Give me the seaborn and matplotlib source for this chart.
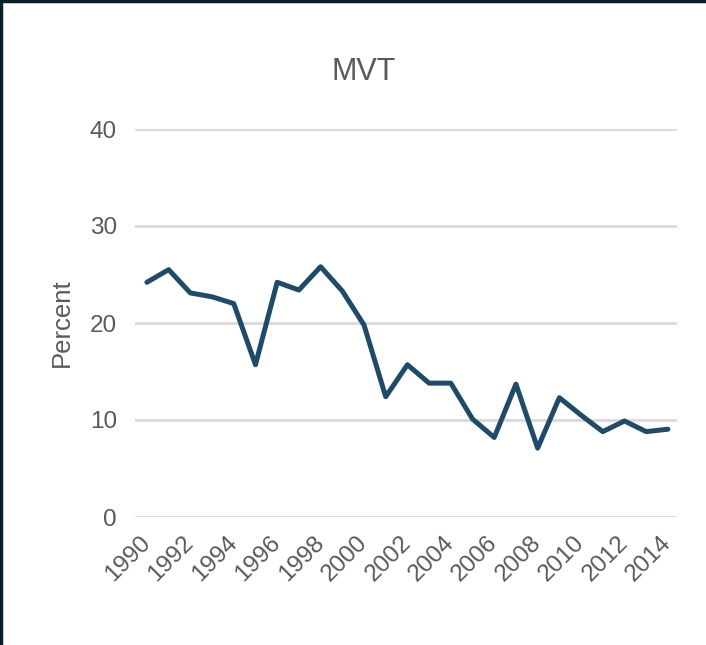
import pandas as pd
import seaborn as sns
from matplotlib import pyplot as plt
from matplotlib.lines import Line2D

years = list(range(1990, 2015))
percent = [24.2, 25.5, 23.1, 22.7, 22.0, 15.7, 24.2, 23.4, 25.8, 23.3,
           19.8, 12.4, 15.7, 13.8, 13.8, 10.1, 8.2, 13.7, 7.1, 12.3,
           10.5, 8.8, 9.9, 8.8, 9.05]
yticks = [0, 10, 20, 30, 40]

df = pd.DataFrame({"year": years, "percent": percent})

sns.set_theme(style="white")
plt.rcParams["font.family"] = ["Liberation Sans", "DejaVu Sans"]

fig = plt.figure(figsize=(7.06, 6.45), dpi=100)
ax = fig.add_axes([135 / 706, 1 - 517 / 645, 542 / 706, 388 / 645])

sns.lineplot(data=df, x="year", y="percent", color="#1f4b68", linewidth=3.6,
             ax=ax, zorder=3)

ax.set_ylim(0, 40)
ax.set_xlim(1989.45, 2014.42)
ax.set_yticks(yticks)
ax.set_xticks(years[::2])
ax.set_xticklabels([str(y) for y in years[::2]], rotation=45, ha="right",
                   va="center", rotation_mode="anchor")
for y in yticks:
    ax.axhline(y, color="#d9d9d9", linewidth=2, zorder=1)
ax.tick_params(axis="both", colors="#595959", labelsize=17.5, length=0)
ax.tick_params(axis="y", pad=13)
ax.tick_params(axis="x", pad=16)
for s in ax.spines.values():
    s.set_visible(False)

ax.set_xlabel("")
ax.set_ylabel("Percent", color="#595959", fontsize=18.5)
ax.yaxis.set_label_coords((74 - 135) / 542, 0.5)
fig.text(364 / 706, 1 - 72 / 645, "MVT", color="#595959", fontsize=22,
         ha="center", va="center")

# dark screenshot edge on top and left
fig.add_artist(Line2D([0, 1], [0.998, 0.998], transform=fig.transFigure,
                      color="#0d1f2a", linewidth=2.5))
fig.add_artist(Line2D([0.002, 0.002], [0, 1], transform=fig.transFigure,
                      color="#0d1f2a", linewidth=2.5))

fig.savefig("out.png", dpi=100)
